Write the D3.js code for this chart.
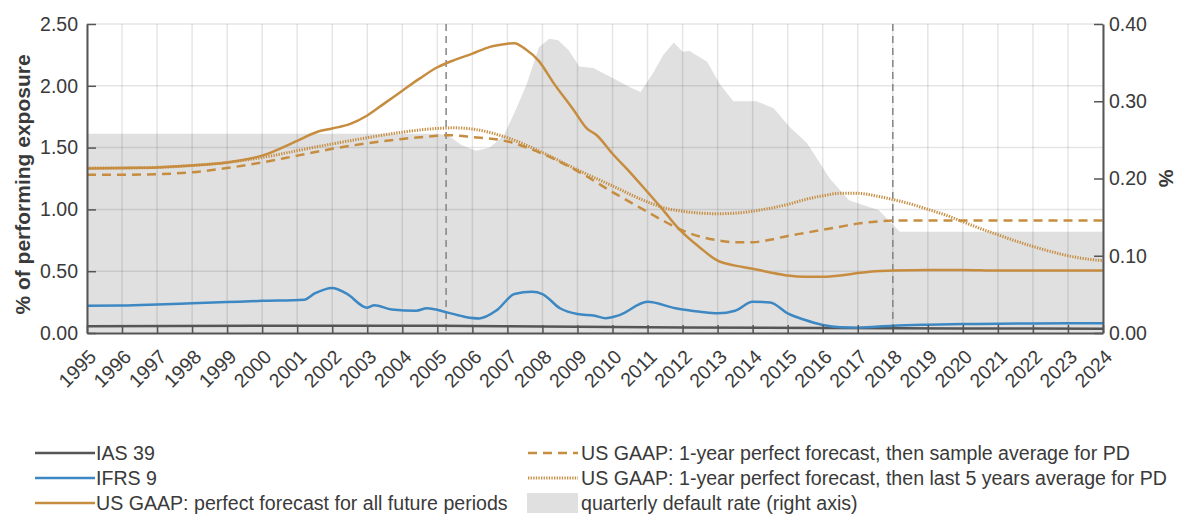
<!DOCTYPE html>
<html>
<head>
<meta charset="utf-8">
<script src="https://cdn.jsdelivr.net/npm/d3@7"></script>
<style>
  body { margin: 0; background: #fff; }
  svg { display: block; font-family: "Liberation Sans", Arial, sans-serif; }
</style>
</head>
<body>
<script>
// years on the x axis
let years = d3.range(1995, 2025);

// left axis ticks (% of performing exposure) and right axis ticks (%)
let leftTicks = [0, 0.5, 1, 1.5, 2, 2.5];
let rightTicks = [0, 0.1, 0.2, 0.3, 0.4];

// vertical marker years (dashed)
let markerYears = [2005.25, 2018];

// series, [year, value]
let ias39 = [[1995, 0.055], [2000, 0.058], [2005, 0.058], [2008, 0.052], [2012, 0.045], [2016, 0.04], [2020, 0.037], [2024, 0.035]];

let ifrs9 = [[1995, 0.22], [1996, 0.222], [1997, 0.23], [1998, 0.24], [1999, 0.25], [2000, 0.26], [2001.2, 0.27],
    [2001.5, 0.32], [2002, 0.365], [2002.4, 0.32], [2003, 0.205], [2003.2, 0.225], [2003.7, 0.19], [2004.4, 0.18],
    [2004.7, 0.2], [2005.3, 0.165], [2005.8, 0.13], [2006.2, 0.118], [2006.7, 0.185], [2007.2, 0.315], [2007.7, 0.333],
    [2008, 0.315], [2008.5, 0.2], [2009, 0.153], [2009.5, 0.14], [2009.8, 0.12], [2010.2, 0.145], [2011, 0.252],
    [2011.8, 0.2], [2012.5, 0.172], [2013, 0.159], [2013.5, 0.18], [2014, 0.252], [2014.5, 0.247], [2015, 0.159],
    [2015.5, 0.105], [2016, 0.065], [2016.5, 0.046], [2017, 0.043], [2018, 0.059], [2019, 0.067], [2020, 0.072],
    [2021, 0.075], [2022, 0.077], [2023, 0.078], [2024, 0.078]];

let gaapPerfect = [[1995, 1.33], [1996, 1.335], [1997, 1.34], [1998, 1.355], [1999, 1.38], [2000, 1.435], [2001, 1.555],
    [2001.6, 1.63], [2002, 1.655], [2002.5, 1.69], [2003, 1.76], [2003.5, 1.86], [2004, 1.96], [2004.5, 2.06],
    [2005, 2.15], [2005.5, 2.21], [2006, 2.26], [2006.5, 2.315], [2007, 2.34], [2007.2, 2.345], [2007.5, 2.3],
    [2007.9, 2.2], [2008.3, 2.03], [2008.9, 1.8], [2009.25, 1.66], [2009.55, 1.6], [2010, 1.45], [2010.5, 1.3],
    [2011, 1.14], [2011.4, 1.01], [2011.9, 0.84], [2012.5, 0.69], [2013, 0.585], [2013.5, 0.545], [2014, 0.52],
    [2014.5, 0.49], [2015, 0.465], [2015.5, 0.455], [2016, 0.455], [2016.5, 0.465], [2017, 0.485], [2017.5, 0.5],
    [2018, 0.505], [2019, 0.51], [2020, 0.51], [2021, 0.505], [2022, 0.505], [2023, 0.505], [2024, 0.505]];

let gaapSampleAvg = [[1995, 1.28], [1996, 1.28], [1997, 1.285], [1998, 1.3], [1999, 1.335], [2000, 1.38], [2001, 1.435],
    [2002, 1.49], [2003, 1.535], [2004, 1.57], [2005, 1.595], [2005.3, 1.6], [2006, 1.585], [2007, 1.55], [2008, 1.45],
    [2009, 1.31], [2010, 1.14], [2011, 0.98], [2011.5, 0.9], [2012, 0.83], [2012.5, 0.78], [2013, 0.75], [2013.5, 0.735],
    [2014, 0.735], [2014.5, 0.755], [2015, 0.785], [2015.5, 0.81], [2016, 0.835], [2016.5, 0.86], [2017, 0.885],
    [2017.5, 0.9], [2018, 0.91], [2019, 0.91], [2020, 0.91], [2021, 0.91], [2022, 0.91], [2023, 0.91], [2024, 0.91]];

let gaap5yAvg = [[1995, 1.335], [1996, 1.335], [1997, 1.34], [1998, 1.355], [1999, 1.38], [2000, 1.42], [2001, 1.475],
    [2002, 1.53], [2003, 1.58], [2004, 1.625], [2005, 1.655], [2005.5, 1.66], [2006, 1.65], [2007, 1.58], [2008, 1.46],
    [2009, 1.32], [2010, 1.19], [2011, 1.06], [2011.5, 1.01], [2012, 0.985], [2012.5, 0.97], [2013, 0.965],
    [2013.5, 0.97], [2014, 0.985], [2014.5, 1.01], [2015, 1.04], [2015.5, 1.08], [2016, 1.11], [2016.5, 1.13],
    [2017, 1.13], [2017.5, 1.11], [2018, 1.08], [2018.5, 1.045], [2019, 1.0], [2019.5, 0.955], [2020, 0.9],
    [2020.5, 0.845], [2021, 0.795], [2021.5, 0.745], [2022, 0.7], [2022.5, 0.66], [2023, 0.625], [2023.5, 0.6], [2024, 0.585]];

// quarterly default rate, right axis
let defaultRate = [[1995, 0.258], [2005, 0.258], [2005.3, 0.256], [2005.7, 0.243], [2006.1, 0.236], [2006.5, 0.24],
    [2006.9, 0.256], [2007.2, 0.285], [2007.55, 0.322], [2007.9, 0.37], [2008.2, 0.381], [2008.45, 0.379],
    [2008.75, 0.366], [2009.05, 0.345], [2009.45, 0.343], [2010, 0.33], [2010.5, 0.318], [2010.8, 0.312],
    [2011.15, 0.336], [2011.45, 0.36], [2011.75, 0.376], [2012.0, 0.364], [2012.2, 0.365], [2012.7, 0.351],
    [2013.05, 0.323], [2013.45, 0.3], [2014.1, 0.3], [2014.6, 0.291], [2015.05, 0.267], [2015.55, 0.246],
    [2016.2, 0.2], [2016.75, 0.172], [2017.6, 0.159], [2018.2, 0.131], [2024, 0.131]];

let legendLeft = ["IAS 39", "IFRS 9", "US GAAP: perfect forecast for all future periods"];
let legendRight = ["US GAAP: 1-year perfect forecast, then sample average for PD",
    "US GAAP: 1-year perfect forecast, then last 5 years average for PD",
    "quarterly default rate (right axis)"];

let width = 1178,
    height = 515,
    margin = {top: 24, right: 75, bottom: 182, left: 87};

let gold = "#c68d40",
    blue = "#3d88c2",
    darkGrey = "#555555",
    areaGrey = "#e0e0e0",
    textCol = "#3a3a3a";

let svg = d3.select("body").append("svg")
    .attr("width", width)
    .attr("height", height);

let x = d3.scaleLinear().domain([1995, 2024]).range([margin.left, width - margin.right]);
let y = d3.scaleLinear().domain([0, 2.5]).range([height - margin.bottom, margin.top]);
let y2 = d3.scaleLinear().domain([0, 0.4]).range([height - margin.bottom, margin.top]);

// default rate area
svg.append("path")
    .datum(defaultRate)
    .attr("fill", areaGrey)
    .attr("d", d3.area().x(d => x(d[0])).y0(y2(0)).y1(d => y2(d[1])));

// grid
svg.append("g").selectAll("line").data(years).join("line")
    .attr("x1", d => x(d)).attr("x2", d => x(d))
    .attr("y1", y(2.5)).attr("y2", y(0))
    .attr("stroke", "rgba(0,0,0,0.1)").attr("stroke-width", 1.5);
svg.append("g").selectAll("line").data(leftTicks.slice(1)).join("line")
    .attr("x1", x(1995)).attr("x2", x(2024))
    .attr("y1", d => y(d)).attr("y2", d => y(d))
    .attr("stroke", "rgba(0,0,0,0.1)").attr("stroke-width", 1.5);

// dashed markers
svg.append("g").selectAll("line").data(markerYears).join("line")
    .attr("x1", d => x(d)).attr("x2", d => x(d))
    .attr("y1", y(2.5)).attr("y2", y(0))
    .attr("stroke", "#858585").attr("stroke-width", 1.5)
    .attr("stroke-dasharray", "7,5");

let line = d3.line().x(d => x(d[0])).y(d => y(d[1])).curve(d3.curveMonotoneX);

function drawLine(data, color, w, dash) {
    let p = svg.append("path")
        .datum(data)
        .attr("fill", "none")
        .attr("stroke", color)
        .attr("stroke-width", w)
        .attr("stroke-linejoin", "round")
        .attr("d", line);
    if (dash) p.attr("stroke-dasharray", dash);
}

drawLine(ias39, darkGrey, 2.5);
drawLine(ifrs9, blue, 2.5);
drawLine(gaapSampleAvg, gold, 2.5, "9,6");
drawLine(gaap5yAvg, gold, 3, "1.3,1.3");
drawLine(gaapPerfect, gold, 2.5);

// axes
let xAxis = svg.append("g")
    .attr("transform", "translate(0," + y(0) + ")")
    .call(d3.axisBottom(x).tickValues(years).tickFormat(d3.format("d")).tickSize(-8).tickSizeOuter(0));
xAxis.selectAll("text")
    .attr("text-anchor", "end")
    .attr("dy", null).attr("y", 0)
    .attr("transform", d => "translate(10,25) rotate(-45)");

let yAxis = svg.append("g")
    .attr("transform", "translate(" + x(1995) + ",0)")
    .call(d3.axisLeft(y).tickValues(leftTicks).tickFormat(d3.format(".2f")).tickSize(-9).tickPadding(9).tickSizeOuter(0));

let y2Axis = svg.append("g")
    .attr("transform", "translate(" + x(2024) + ",0)")
    .call(d3.axisRight(y2).tickValues(rightTicks).tickFormat(d3.format(".2f")).tickSize(-9).tickPadding(6).tickSizeOuter(0));

[xAxis, yAxis, y2Axis].forEach(a => {
    a.select(".domain").attr("stroke", darkGrey).attr("stroke-width", 2);
    a.selectAll(".tick line").attr("stroke", darkGrey).attr("stroke-width", 1.5);
    a.selectAll("text").attr("fill", textCol).style("font-size", "19.5px");
});

// axis titles
svg.append("text")
    .attr("transform", "translate(30," + ((y(0) + y(2.5)) / 2 + 6) + ") rotate(-90)")
    .attr("text-anchor", "middle")
    .attr("fill", textCol)
    .style("font-size", "21px")
    .style("font-weight", "bold")
    .text("% of performing exposure");

svg.append("text")
    .attr("transform", "translate(1159," + y2(0.2) + ") rotate(90)")
    .attr("text-anchor", "middle")
    .attr("fill", textCol)
    .style("font-size", "20px")
    .style("font-weight", "bold")
    .text("%");

// legend
let rowY = [453, 478, 503];
let legL = svg.append("g");
let leftStyles = [{c: darkGrey}, {c: blue}, {c: gold}];
legendLeft.forEach((t, i) => {
    legL.append("line")
        .attr("x1", 35).attr("x2", 95).attr("y1", rowY[i]).attr("y2", rowY[i])
        .attr("stroke", leftStyles[i].c).attr("stroke-width", 2.5);
    legL.append("text")
        .attr("x", 96).attr("y", rowY[i]).attr("dy", "0.35em")
        .attr("fill", textCol).style("font-size", "19.6px")
        .text(t);
});
let legR = svg.append("g");
legendRight.forEach((t, i) => {
    if (i === 0) {
        legR.append("line").attr("x1", 528).attr("x2", 578).attr("y1", rowY[i]).attr("y2", rowY[i])
            .attr("stroke", gold).attr("stroke-width", 2.5).attr("stroke-dasharray", "9,6");
    } else if (i === 1) {
        legR.append("line").attr("x1", 528).attr("x2", 578).attr("y1", rowY[i]).attr("y2", rowY[i])
            .attr("stroke", gold).attr("stroke-width", 3).attr("stroke-dasharray", "1.3,1.3");
    } else {
        legR.append("rect").attr("x", 527).attr("y", rowY[i] - 10).attr("width", 51).attr("height", 20)
            .attr("fill", areaGrey);
    }
    legR.append("text")
        .attr("x", 581).attr("y", rowY[i]).attr("dy", "0.35em")
        .attr("fill", textCol).style("font-size", "19.6px")
        .text(t);
});
</script>
</body>
</html>
